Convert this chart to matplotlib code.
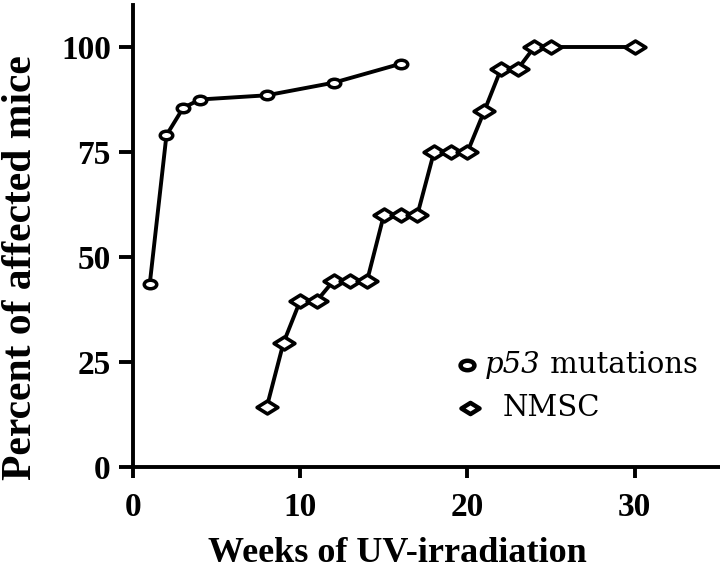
import numpy as np
import matplotlib
matplotlib.use("Agg")
import matplotlib.pyplot as plt
from matplotlib.path import Path
from matplotlib.transforms import Affine2D

plt.rcParams['font.family'] = ['Liberation Serif', 'DejaVu Serif']

# data
p53_weeks = [1, 2, 3, 4, 8, 12, 16]
p53_pct = [43.5, 79, 85.5, 87.5, 88.5, 91.5, 96]

nmsc_weeks = [8, 9, 10, 11, 12, 13, 14, 15, 16, 17, 18, 19, 20, 21, 22, 23, 24, 25, 30]
nmsc_pct = [14.3, 29.6, 39.6, 39.6, 44.4, 44.4, 44.4, 60, 60, 60,
            75, 75, 75, 84.7, 94.7, 94.7, 100, 100, 100]

xticks = [0, 10, 20, 30]
yticks = [0, 25, 50, 75, 100]

# squashed markers like the scan
ellipse = Path.unit_circle().transformed(Affine2D().scale(1.0, 0.68))
diamond = Path([(-1, 0), (0, 0.62), (1, 0), (0, -0.62), (-1, 0)],
               [Path.MOVETO, Path.LINETO, Path.LINETO, Path.LINETO, Path.CLOSEPOLY])

fig = plt.figure(figsize=(7.2, 5.75), dpi=100)
ax = fig.add_axes([133/720, 1 - 467/575, 587/720, 462/575])

ax.plot(p53_weeks, p53_pct, color='black', lw=2.8, marker=ellipse, ms=9,
        mfc='white', mec='black', mew=2.5, zorder=3)
ax.plot(nmsc_weeks, nmsc_pct, color='black', lw=2.8, marker=diamond, ms=15,
        mfc='white', mec='black', mew=2.6, zorder=3)

ax.set_xlim(0, 35.1)
ax.set_ylim(0, 110)
ax.set_xticks(xticks)
ax.set_yticks(yticks)
ax.tick_params(axis='both', direction='out', width=2.8, labelsize=24)
ax.tick_params(axis='y', length=10, pad=6)
ax.tick_params(axis='x', length=8, pad=10)
for lab in ax.get_xticklabels() + ax.get_yticklabels():
    lab.set_fontweight('bold')
for s in ['top', 'right']:
    ax.spines[s].set_visible(False)
for s in ['left', 'bottom']:
    ax.spines[s].set_linewidth(2.8)

# legend drawn by hand
ax.plot([0.569], [0.221], transform=ax.transAxes, marker=ellipse, ms=10,
        mfc='white', mec='black', mew=3.2, ls='none', clip_on=False)
ax.plot([0.574], [0.128], transform=ax.transAxes, marker=diamond, ms=13,
        mfc='white', mec='black', mew=3.2, ls='none', clip_on=False)
t1 = ax.text(0.6, 0.221, 'p53', transform=ax.transAxes, fontsize=21,
             va='baseline', ha='left', family='DejaVu Serif', style='italic')
t1.set_y(0.221 - 0.018)
ax.annotate(' mutations', xy=(1, 0), xycoords=t1, fontsize=21,
            va='bottom', ha='left', family='DejaVu Serif')
ax.text(0.629, 0.128, 'NMSC', transform=ax.transAxes,
        fontsize=21, va='center', ha='left', family='DejaVu Serif')

fig.text(397/720, 1 - 553/575, 'Weeks of UV-irradiation', fontsize=26,
         fontweight='bold', ha='center', va='center')
fig.text(21/720, 1 - 268/575, 'Percent of affected mice', fontsize=30,
         fontweight='bold', ha='center', va='center', rotation=90)

fig.savefig('out.png', dpi=100)
